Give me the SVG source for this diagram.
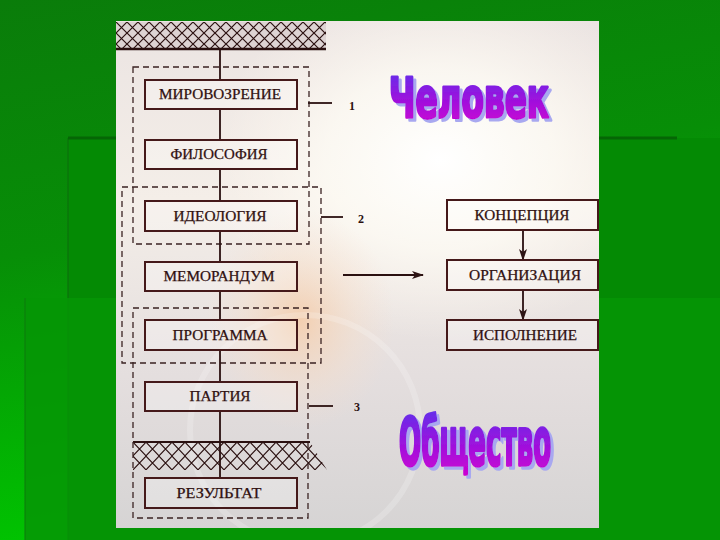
<svg xmlns="http://www.w3.org/2000/svg" width="720" height="540" viewBox="0 0 720 540">
<defs>
<linearGradient id="bgG" x1="0" y1="0" x2="0.25" y2="1">
<stop offset="0" stop-color="#0a7c0a"/>
<stop offset="0.45" stop-color="#078e07"/>
<stop offset="1" stop-color="#00c800"/>
</linearGradient>
<linearGradient id="panelG" x1="0" y1="0" x2="0" y2="1">
<stop offset="0" stop-color="#ebe4e2"/>
<stop offset="0.35" stop-color="#f4eee8"/>
<stop offset="0.7" stop-color="#e4dede"/>
<stop offset="1" stop-color="#d6d4d4"/>
</linearGradient>
<radialGradient id="glowW" cx="0.5" cy="0.5" r="0.5">
<stop offset="0" stop-color="#ffffff" stop-opacity="1"/>
<stop offset="0.5" stop-color="#fffdf6" stop-opacity="0.7"/>
<stop offset="1" stop-color="#fff8f0" stop-opacity="0"/>
</radialGradient>
<radialGradient id="glowP" cx="0.5" cy="0.5" r="0.5">
<stop offset="0" stop-color="#f6c8a0" stop-opacity="0.75"/>
<stop offset="0.6" stop-color="#f8dcc4" stop-opacity="0.35"/>
<stop offset="1" stop-color="#f8e0d0" stop-opacity="0"/>
</radialGradient>
<linearGradient id="waG" x1="0" y1="0" x2="0" y2="1">
<stop offset="0" stop-color="#5a34ec"/>
<stop offset="0.55" stop-color="#a010dc"/>
<stop offset="1" stop-color="#d400d0"/>
</linearGradient>
<clipPath id="panelClip"><rect x="116" y="21" width="483" height="507"/></clipPath>
<filter id="shadow" x="-10%" y="-20%" width="130%" height="150%">
<feFlood flood-color="#a8a8f0" result="f"/>
<feComposite in="f" in2="SourceAlpha" operator="in" result="s"/>
<feOffset in="s" dx="3" dy="3" result="so"/>
<feMerge><feMergeNode in="so"/><feMergeNode in="SourceGraphic"/></feMerge>
</filter>
<pattern id="hatch" patternUnits="userSpaceOnUse" width="11" height="11" x="116" y="22">
<path d="M-2,-2 L13,13 M13,-2 L-2,13" stroke="#2a1010" stroke-width="1.2" fill="none"/>
</pattern>
<pattern id="hatch2" patternUnits="userSpaceOnUse" width="13" height="14" x="133" y="442">
<path d="M-2,-2 L15,16 M15,-2 L-2,16" stroke="#2a1010" stroke-width="1.1" fill="none"/>
</pattern>
<marker id="arr" markerWidth="12" markerHeight="8" refX="11" refY="4" orient="auto" markerUnits="userSpaceOnUse">
<path d="M0,0 L12,4 L0,8 L3,4 Z" fill="#2e1414"/>
</marker>
<style>
.box{fill:#ffffff;fill-opacity:0.25;stroke:#45191a;stroke-width:2}
.lbl{font-family:"Liberation Serif","Times New Roman",serif;font-size:14px;fill:#301010;stroke:#301010;stroke-width:0.25;text-anchor:middle}
.num{font-family:"Liberation Serif","Times New Roman",serif;font-size:12px;font-weight:bold;fill:#2a1010}
.dash{fill:none;stroke:#3a2222;stroke-width:1.3;stroke-dasharray:6 4}
.ln{stroke:#2a1010;stroke-width:1.8;fill:none}
.wa{font-family:"DejaVu Sans Condensed","DejaVu Sans","Liberation Sans",sans-serif;font-weight:bold;font-stretch:condensed;fill:url(#waG);stroke:url(#waG);stroke-linejoin:round}
</style>
</defs>

<!-- background -->
<rect x="0" y="0" width="720" height="540" fill="url(#bgG)"/>
<rect x="68" y="138" width="652" height="402" fill="#048a04"/>
<rect x="67" y="138" width="2" height="402" fill="#0b700b" opacity="0.6"/>
<rect x="68" y="136.5" width="609" height="3" fill="#056605"/>
<rect x="25" y="298" width="695" height="242" fill="#069506" opacity="0.85"/>
<rect x="24" y="298" width="2" height="242" fill="#0b7a0b" opacity="0.5"/>

<!-- image panel -->
<g clip-path="url(#panelClip)">
<rect x="116" y="21" width="483" height="507" fill="url(#panelG)"/>
<ellipse cx="440" cy="160" rx="230" ry="180" fill="url(#glowW)"/>
<ellipse cx="300" cy="320" rx="95" ry="110" fill="url(#glowP)"/>
<circle cx="305" cy="430" r="115" fill="none" stroke="#ffffff" stroke-opacity="0.2" stroke-width="6"/>
</g>

<!-- hatch bands -->
<rect x="116" y="22" width="210" height="26" fill="#ddd3d3"/>
<rect x="116" y="22" width="210" height="26" fill="url(#hatch)"/>
<line x1="116" y1="49" x2="326" y2="49" stroke="#2a1010" stroke-width="2.5"/>
<polygon points="133,442 310,442 327,470 133,470" fill="url(#hatch2)"/>
<line x1="133" y1="442" x2="310" y2="442" stroke="#2a1010" stroke-width="2"/>

<!-- dashed groups -->
<rect class="dash" x="133" y="67" width="176" height="177"/>
<rect class="dash" x="122" y="187" width="199" height="176"/>
<rect class="dash" x="133" y="308" width="175" height="210"/>

<!-- connectors -->
<g id="connectors">
<path class="ln" d="M220,49 V80 M220,109 V140 M220,169 V201 M220,231 V262 M220,291 V320 M220,350 V382 M220,411 V478"/>
<line class="ln" x1="308" y1="103" x2="332" y2="103" stroke-width="1.5"/>
<line class="ln" x1="321" y1="217" x2="343" y2="217" stroke-width="1.5"/>
<line class="ln" x1="309" y1="406" x2="333" y2="406" stroke-width="1.5"/>
<line class="ln" x1="343" y1="275" x2="423" y2="275" stroke-width="1.6" marker-end="url(#arr)"/>
<line class="ln" x1="523" y1="230" x2="523" y2="260" stroke-width="1.8" marker-end="url(#arr)"/>
<line class="ln" x1="523" y1="290" x2="523" y2="320" stroke-width="1.8" marker-end="url(#arr)"/>
</g>

<!-- nodes -->
<g id="n-mirovozzrenie"><rect class="box" x="145" y="80" width="152" height="29"/><text class="lbl" x="220" y="99" textLength="122" lengthAdjust="spacingAndGlyphs">МИРОВОЗРЕНИЕ</text></g>
<g id="n-filosofiya"><rect class="box" x="145" y="140" width="152" height="29"/><text class="lbl" x="219" y="159" textLength="97" lengthAdjust="spacingAndGlyphs">ФИЛОСОФИЯ</text></g>
<g id="n-ideologiya"><rect class="box" x="145" y="201" width="152" height="30"/><text class="lbl" x="220" y="220.5" textLength="93" lengthAdjust="spacingAndGlyphs">ИДЕОЛОГИЯ</text></g>
<g id="n-memorandum"><rect class="box" x="145" y="262" width="152" height="29"/><text class="lbl" x="219" y="281" textLength="111" lengthAdjust="spacingAndGlyphs">МЕМОРАНДУМ</text></g>
<g id="n-programma"><rect class="box" x="145" y="320" width="152" height="30"/><text class="lbl" x="220" y="339.5" textLength="95" lengthAdjust="spacingAndGlyphs">ПРОГРАММА</text></g>
<g id="n-partiya"><rect class="box" x="145" y="382" width="152" height="29"/><text class="lbl" x="220" y="401" textLength="61" lengthAdjust="spacingAndGlyphs">ПАРТИЯ</text></g>
<g id="n-rezultat"><rect class="box" x="145" y="478" width="152" height="30"/><text class="lbl" x="219" y="497.5" textLength="85" lengthAdjust="spacingAndGlyphs">РЕЗУЛЬТАТ</text></g>

<g id="n-kontseptsiya"><rect class="box" x="447" y="200" width="151" height="30"/><text class="lbl" x="522" y="219.5" textLength="95" lengthAdjust="spacingAndGlyphs">КОНЦЕПЦИЯ</text></g>
<g id="n-organizatsiya"><rect class="box" x="447" y="260" width="151" height="30"/><text class="lbl" x="525" y="279.5" textLength="112" lengthAdjust="spacingAndGlyphs">ОРГАНИЗАЦИЯ</text></g>
<g id="n-ispolnenie"><rect class="box" x="447" y="320" width="151" height="30"/><text class="lbl" x="525" y="339.5" textLength="104" lengthAdjust="spacingAndGlyphs">ИСПОЛНЕНИЕ</text></g>

<!-- numbers -->
<text class="num" x="349" y="110">1</text>
<text class="num" x="358" y="223">2</text>
<text class="num" x="354" y="411" font-size="10">3</text>

<!-- word art -->
<g id="wa-chelovek" filter="url(#shadow)">
<text class="wa" transform="translate(389,117) scale(0.55,1)" x="0" y="0" font-size="55" stroke-width="3" textLength="291" lengthAdjust="spacingAndGlyphs">Человек</text>
</g>
<g id="wa-obshchestvo" filter="url(#shadow)">
<text class="wa" transform="translate(399,465) scale(0.45,1)" x="0" y="0" font-size="66" stroke-width="3.5" textLength="338" lengthAdjust="spacingAndGlyphs">Общество</text>
</g>
</svg>
